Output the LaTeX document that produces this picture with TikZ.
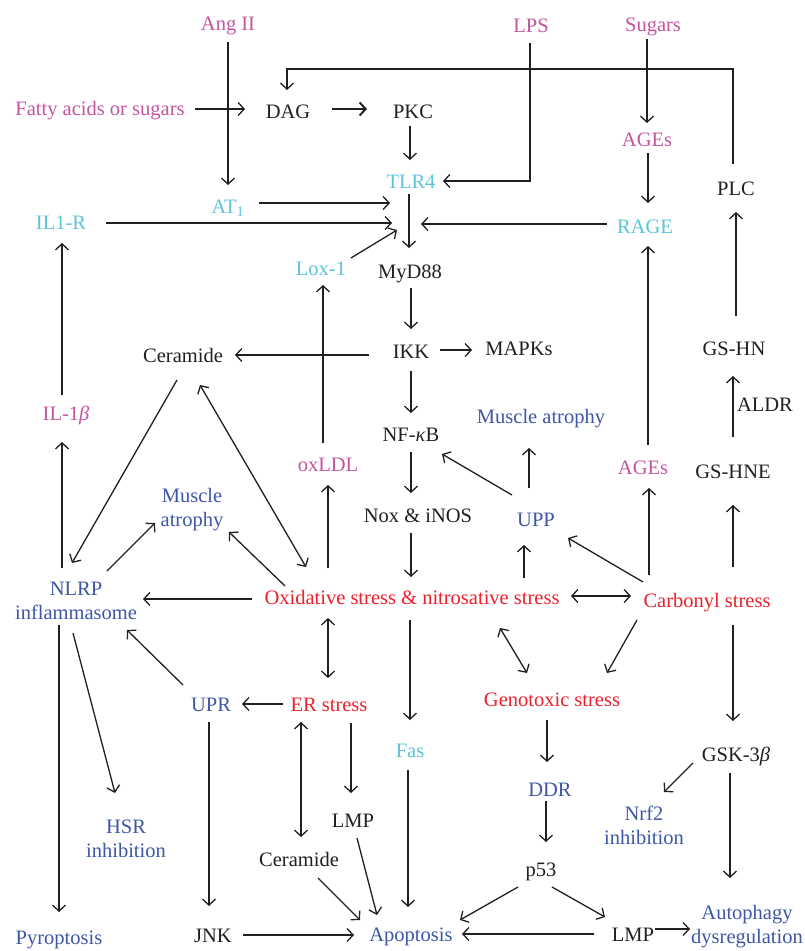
\documentclass[tikz,border=0pt]{standalone}
\usepackage{fontspec}
\setmainfont{Liberation Serif}
\usetikzlibrary{arrows.meta,calc}
\definecolor{cmag}{RGB}{196,84,160}
\definecolor{ccyan}{RGB}{92,196,218}
\definecolor{cblue}{RGB}{62,86,166}
\definecolor{cred}{RGB}{236,32,44}
\definecolor{cline}{RGB}{35,31,32}
\begin{document}
\begin{tikzpicture}[x=1pt,y=-1pt,
  >={Straight Barb[length=6pt,width=13pt]},
  every node/.style={inner sep=0pt,font=\fontsize{20.5}{24}\selectfont,text=cline},
  lbl/.style={anchor=base},
  two/.style={anchor=center,align=center},
  tmag/.style={text=cmag},
  tcyn/.style={text=ccyan},
  tblu/.style={text=cblue},
  tred/.style={text=cred},
  arr/.style={draw=cline,line width=1.3pt,->},
  darr/.style={draw=cline,line width=1.3pt,<->}]
\useasboundingbox (0,0) rectangle (805,951);
% nodes
\node[lbl,tmag] (angii) at (228,30) {Ang II};
\node[lbl,tmag] (lps) at (531,32) {LPS};
\node[lbl,tmag] (sugars) at (653,31) {Sugars};
\node[lbl,tmag] (fatty) at (100,115) {Fatty acids or sugars};
\node[lbl] (dag) at (288,118) {DAG};
\node[lbl] (pkc) at (413,118) {PKC};
\node[lbl,tmag] (ages1) at (647,146) {AGEs};
\node[lbl,tcyn] (tlr4) at (411,188) {TLR4};
\node[lbl] (plc) at (736,195) {PLC};
\node[lbl,tcyn] (at1) at (228,213) {AT\textsubscript{1}};
\node[lbl,tcyn] (il1r) at (61,229) {IL1-R};
\node[lbl,tcyn] (rage) at (645,233) {RAGE};
\node[lbl,tcyn] (lox1) at (321,275) {Lox-1};
\node[lbl] (myd88) at (410,278) {MyD88};
\node[lbl] (cer1) at (183,362) {Ceramide};
\node[lbl] (ikk) at (411,358) {IKK};
\node[lbl] (mapks) at (519,355) {MAPKs};
\node[lbl] (gshn) at (734,355) {GS-HN};
\node[lbl,tmag] (il1b) at (66,420) {IL-1\textit{β}};
\node[lbl,tblu] (musc2) at (541,423) {Muscle atrophy};
\node[lbl] (aldr) at (765,411) {ALDR};
\node[lbl] (nfkb) at (411,441) {NF-\textit{κ}B};
\node[lbl,tmag] (oxldl) at (328,471) {oxLDL};
\node[lbl,tmag] (ages2) at (643,474) {AGEs};
\node[lbl] (gshne) at (733,478) {GS-HNE};
\node[two,tblu] (musc1) at (192,510) {Muscle\\atrophy};
\node[lbl] (nox) at (418,522) {Nox \& iNOS};
\node[lbl,tblu] (upp) at (536,526) {UPP};
\node[two,tblu] (nlrp) at (76,601) {NLRP\\inflammasome};
\node[lbl,tred] (ox) at (412,604) {Oxidative stress \& nitrosative stress};
\node[lbl,tred] (carb) at (707,607) {Carbonyl stress};
\node[lbl,tblu] (upr) at (211,711) {UPR};
\node[lbl,tred] (er) at (329,711) {ER stress};
\node[lbl,tred] (geno) at (552,706) {Genotoxic stress};
\node[lbl,tcyn] (fas) at (410,757) {Fas};
\node[lbl] (gsk) at (736,761) {GSK-3\textit{β}};
\node[lbl,tblu] (ddr) at (550,796) {DDR};
\node[two,tblu] (hsr) at (126,839) {HSR\\inhibition};
\node[lbl] (lmp1) at (353,827) {LMP};
\node[two,tblu] (nrf2) at (644,825) {Nrf2\\inhibition};
\node[lbl] (cer2) at (299,866) {Ceramide};
\node[lbl] (p53) at (541,876) {p53};
\node[lbl,tblu] (pyro) at (59,944) {Pyroptosis};
\node[lbl] (jnk) at (213,942) {JNK};
\node[lbl,tblu] (apop) at (411,941) {Apoptosis};
\node[lbl] (lmp2) at (633,941) {LMP};
\node[two,tblu] (auto) at (747,927) {Autophagy\\dysregulation};
% connectors
\draw[arr] ($(angii.base)+(0,12)$) -- ($(at1.base)+(0,-28)$);
\draw[arr] ($(fatty.base)+(95,-6)$) -- ($(dag.base)+(-43,-9)$);
\draw[arr,line width=2pt] ($(dag.base)+(44,-9)$) -- ($(pkc.base)+(-46,-9)$);
\draw[arr] ($(plc.base)+(-3,-31)$) |- ($(dag.base)+(-1,-49)$) -- ($(dag.base)+(-1,-28)$);
\draw[arr] ($(lps.base)+(-1,11)$) |- ($(tlr4.base)+(32,-7)$);
\draw[arr] ($(sugars.base)+(-6,8)$) -- ($(ages1.base)+(0,-23)$);
\draw[arr] ($(ages1.base)+(1,7)$) -- ($(rage.base)+(3,-30)$);
\draw[arr] ($(pkc.base)+(-3,8)$) -- ($(tlr4.base)+(-1,-28)$);
\draw[arr] ($(tlr4.base)+(-2,6)$) -- ($(myd88.base)+(-1,-30)$);
\draw[arr] ($(at1.base)+(31,-10)$) -- ($(myd88.base)+(-20,-75)$);
\draw[arr] ($(il1r.base)+(45,-6)$) -- ($(myd88.base)+(-18,-55)$);
\draw[arr] ($(lox1.base)+(30,-17)$) -- ($(myd88.base)+(-13,-48)$);
\draw[arr] ($(rage.base)+(-38,-9)$) -- ($(myd88.base)+(11,-54)$);
\draw[arr] ($(myd88.base)+(1,10)$) -- ($(ikk.base)+(0,-29)$);
\draw[arr] ($(ikk.base)+(-42,-3)$) -- ($(cer1.base)+(52,-7)$);
\draw[arr] ($(ikk.base)+(29,-8)$) -- ($(mapks.base)+(-47,-5)$);
\draw[arr] ($(ikk.base)+(0,13)$) -- ($(nfkb.base)+(0,-28)$);
\draw[arr] ($(nfkb.base)+(0,11)$) -- ($(nox.base)+(-7,-29)$);
\draw[arr] ($(nox.base)+(-7,11)$) -- ($(ox.base)+(-1,-27)$);
\draw[arr] ($(upp.base)+(-24,-31)$) -- ($(nfkb.base)+(31,13)$);
\draw[arr] ($(upp.base)+(-7,-38)$) -- ($(musc2.base)+(-12,25)$);
\draw[arr] ($(ox.base)+(112,-26)$) -- ($(upp.base)+(-12,19)$);
\draw[arr] ($(carb.base)+(-64,-25)$) -- ($(upp.base)+(32,12)$);
\draw[arr] ($(carb.base)+(-58,-32)$) -- ($(ages2.base)+(6,14)$);
\draw[arr] ($(ages2.base)+(5,-29)$) -- ($(rage.base)+(3,13)$);
\draw[darr] ($(ox.base)+(159,-8)$) -- ($(carb.base)+(-76,-11)$);
\draw[arr] ($(carb.base)+(26,-40)$) -- ($(gshne.base)+(0,27)$);
\draw[arr] ($(gshne.base)+(0,-41)$) -- ($(gshn.base)+(-1,21)$);
\draw[arr] ($(gshn.base)+(2,-39)$) -- ($(plc.base)+(0,17)$);
\draw[arr] ($(carb.base)+(26,18)$) -- ($(gsk.base)+(-3,-40)$);
\draw[arr] ($(carb.base)+(-70,13)$) -- ($(geno.base)+(55,-33)$);
\draw[darr] ($(ox.base)+(88,24)$) -- ($(geno.base)+(-25,-33)$);
\draw[arr] ($(ox.base)+(-84,-36)$) -- ($(oxldl.base)+(0,14)$);
\draw[arr] ($(oxldl.base)+(-5,-28)$) -- ($(lox1.base)+(2,10)$);
\draw[darr] ($(ox.base)+(-106,-37)$) -- ($(cer1.base)+(17,23)$);
\draw[arr] ($(cer1.base)+(-6,18)$) -- ($(nlrp.center)+(-4,-38)$);
\draw[arr] ($(nlrp.center)+(31,-30)$) -- ($(musc1.center)+(-37,13)$);
\draw[arr] ($(ox.base)+(-127,-18)$) -- ($(musc1.center)+(37,22)$);
\draw[arr] ($(ox.base)+(-160,-5)$) -- ($(nlrp.center)+(67,-2)$);
\draw[arr] ($(nlrp.center)+(-14,-33)$) -- ($(il1b.base)+(-4,22)$);
\draw[arr] ($(il1b.base)+(-4,-25)$) -- ($(il1r.base)+(1,14)$);
\draw[darr] ($(ox.base)+(-84,14)$) -- ($(er.base)+(-1,-33)$);
\draw[arr] ($(er.base)+(-46,-7)$) -- ($(upr.base)+(31,-7)$);
\draw[arr] ($(upr.base)+(-28,-26)$) -- ($(nlrp.center)+(51,29)$);
\draw[arr] ($(nlrp.center)+(-3,32)$) -- ($(hsr.center)+(-11,-46)$);
\draw[arr] ($(nlrp.center)+(-17,24)$) -- ($(pyro.base)+(0,-32)$);
\draw[arr] ($(upr.base)+(-2,11)$) -- ($(jnk.base)+(-4,-36)$);
\draw[darr] ($(er.base)+(-28,11)$) -- ($(cer2.base)+(2,-29)$);
\draw[arr] ($(er.base)+(22,12)$) -- ($(lmp1.base)+(-2,-34)$);
\draw[arr] ($(lmp1.base)+(4,11)$) -- ($(apop.base)+(-34,-26)$);
\draw[arr] ($(cer2.base)+(19,12)$) -- ($(apop.base)+(-51,-21)$);
\draw[arr] ($(jnk.base)+(30,-7)$) -- ($(apop.base)+(-57,-6)$);
\draw[arr] ($(ox.base)+(-2,16)$) -- ($(fas.base)+(0,-37)$);
\draw[arr] ($(fas.base)+(-2,13)$) -- ($(apop.base)+(-3,-34)$);
\draw[arr] ($(geno.base)+(-5,14)$) -- ($(ddr.base)+(-3,-34)$);
\draw[arr] ($(ddr.base)+(-4,5)$) -- ($(p53.base)+(5,-34)$);
\draw[arr] ($(p53.base)+(-23,11)$) -- ($(apop.base)+(49,-21)$);
\draw[arr] ($(p53.base)+(11,11)$) -- ($(lmp2.base)+(-28,-24)$);
\draw[arr] ($(lmp2.base)+(-39,-7)$) -- ($(apop.base)+(51,-7)$);
\draw[arr] ($(lmp2.base)+(22,-12)$) -- ($(auto.center)+(-57,2)$);
\draw[arr] ($(gsk.base)+(-43,2)$) -- ($(nrf2.center)+(20,-33)$);
\draw[arr] ($(gsk.base)+(-6,12)$) -- ($(auto.center)+(-17,-49)$);
\end{tikzpicture}
\end{document}
